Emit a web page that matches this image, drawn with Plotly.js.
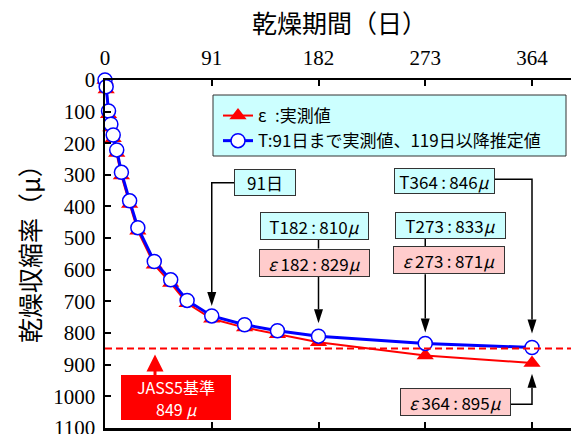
<!DOCTYPE html>
<html><head><meta charset="utf-8">
<script src="https://cdn.plot.ly/plotly-3.0.1.min.js"></script>
<style>html,body{margin:0;padding:0;background:#fff;}#chart{width:571px;height:434px;}</style>
</head><body><div id="chart"></div>
<script>
// ---- data ----
const days = [0, 1, 3, 5, 7, 10, 14, 21, 28, 42, 56, 70, 91, 119, 147, 182, 273, 364];
const tValues = [0, 21, 98, 140, 174, 221, 292, 382, 467, 574, 632, 697, 746, 774, 793, 810, 833, 846];
const epsValues = [0, 30, 108, 150, 184, 231, 302, 392, 477, 584, 642, 706, 755, 783, 804, 829, 871, 895];
const xTickVals = [0, 91, 182, 273, 364];
const yTickVals = [0, 100, 200, 300, 400, 500, 600, 700, 800, 900, 1000, 1100];
const jassLimit = 849;
const legendNames = ['ε\u2002:実測値', 'T:91日まで実測値、119日以降推定値'];
const xTitle = '乾燥期間（日）';
const yTitle = '乾燥収縮率（μ）';

// ---- layout constants ----
const W = 571, H = 434, L = 105, R = 0, TOP = 80, B = 6;
const PX = 427 / 364;            // px per day
const XMAX = (W - L - R) / PX;
const YMAX = 1100;
const PY = (H - TOP - B) / YMAX; // px per unit
const JP = 'Noto Sans CJK JP, Noto Sans, sans-serif';
const SERIF = 'Liberation Serif, DejaVu Serif, serif';
const CYAN = '#ccffff', PINK = '#ffcccc';
const SP = '\u2009';

const X = px => (px - L) / PX;
const Y = py => (py - TOP) / PY;
const sx = d => L + d * PX;
const sy = v => TOP + v * PY;
const i = d => days.indexOf(d);
const T = d => tValues[i(d)];
const E = d => epsValues[i(d)];
const pX = px => (px - L) / (W - L - R);
const pY = py => (H - B - py) / (H - TOP - B);

const traces = [
  {x: days, y: epsValues, name: legendNames[0], type: 'scatter', mode: 'lines+markers',
   legendgroup: 'e', cliponaxis: false,
   line: {color: '#ff0000', width: 2},
   marker: {symbol: 'triangle-up', size: 15, color: '#ff0000'}},
  {x: days, y: tValues, name: legendNames[1], type: 'scatter', mode: 'lines+markers',
   legendgroup: 't', cliponaxis: false,
   line: {color: '#0000ff', width: 3},
   marker: {symbol: 'circle', size: 14, color: '#ffffff', line: {color: '#0000ff', width: 1.5}}}
];

// text boxes
const colon = SP + ':' + SP;
const boxes = [
  {text: `${days[i(91)]}日`, cx: 265, cy: 182.7, w: 62, h: 27, bg: CYAN},
  {text: `T182${colon}${T(182)}<i>μ</i>`, cx: 314.5, cy: 226.3, w: 109, h: 28, bg: CYAN},
  {text: `<i>ε</i> 182${colon}${E(182)}<i>μ</i>`, cx: 314.7, cy: 262.7, w: 111, h: 28, bg: PINK},
  {text: `T273${colon}${T(273)}<i>μ</i>`, cx: 450.3, cy: 225.3, w: 111, h: 27, bg: CYAN},
  {text: `<i>ε</i> 273${colon}${E(273)}<i>μ</i>`, cx: 449.2, cy: 260.5, w: 112, h: 28, bg: PINK},
  {text: `T364${colon}${T(364)}<i>μ</i>`, cx: 444.5, cy: 181.3, w: 101, h: 26, bg: CYAN},
  {text: `<i>ε</i> 364${colon}${E(364)}<i>μ</i>`, cx: 455.3, cy: 402.5, w: 111, h: 28, bg: PINK}
];
const annotations = boxes.map(b => ({
  xref: 'x', yref: 'y', x: X(b.cx), y: Y(b.cy), xanchor: 'center', yanchor: 'middle',
  text: b.text, showarrow: false, bgcolor: b.bg, bordercolor: '#333333', borderwidth: 1,
  borderpad: 0, width: b.w - 2, height: b.h - 2,
  font: {family: JP, size: 17, color: '#000'}
}));
annotations.push({
  xref: 'x', yref: 'y', x: X(176), y: Y(387), xanchor: 'center', yanchor: 'middle',
  text: 'JASS5基準', showarrow: false, font: {family: JP, size: 16, color: '#ffffff'}
});
annotations.push({
  xref: 'x', yref: 'y', x: X(176), y: Y(409), xanchor: 'center', yanchor: 'middle',
  text: `${jassLimit} <i>μ</i>`, showarrow: false, font: {family: JP, size: 16, color: '#ffffff'}
});
annotations.push({
  xref: 'paper', yref: 'paper', x: pX(339), y: pY(22), xanchor: 'center', yanchor: 'middle',
  text: xTitle, showarrow: false, font: {family: JP, size: 25, color: '#000'}
});
annotations.push({
  xref: 'paper', yref: 'paper', x: pX(29), y: pY(248), xanchor: 'center', yanchor: 'middle',
  text: yTitle, textangle: -90, showarrow: false, font: {family: JP, size: 25, color: '#000'}
});

const HL = 14, HW = 4.5;
const callouts = [
  {day: 91, val: T(91), stand: 10, dir: 'down', pts: [[234.3, 182.7], [sx(91), 182.7]]},
  {day: 182, val: T(182), stand: 13, dir: 'down', pts: [[sx(182), 240], [sx(182), 248.7]], gap: [[sx(182), 276.7]]},
  {day: 273, val: T(273), stand: 11, dir: 'down', pts: [[sx(273), 238.3], [sx(273), 246.7]], gap: [[sx(273), 274.3]]},
  {day: 364, val: T(364), stand: 14, dir: 'down', pts: [[495, 179.3], [sx(364), 179.3]]},
  {day: 364, val: E(364), stand: 10.8, dir: 'up', pts: [[510.7, 404.3], [sx(364), 404.3]]}
];
const shapes = [];
shapes.push({type: 'rect', xref: 'paper', yref: 'paper', x0: pX(121), x1: pX(231), y0: pY(420), y1: pY(375),
  fillcolor: '#ff0000', line: {width: 0}, layer: 'above'});
shapes.push({type: 'line', xref: 'paper', x0: 0, x1: 1, yref: 'y', y0: jassLimit, y1: jassLimit,
  line: {color: '#ff0000', width: 2, dash: '7px,4px'}, layer: 'above'});
shapes.push({type: 'rect', xref: 'paper', yref: 'paper', x0: pX(213), x1: pX(566), y0: pY(156), y1: pY(95),
  fillcolor: CYAN, line: {color: '#333333', width: 1}, layer: 'above'});
callouts.forEach(c => {
  const yc = sy(c.val);
  const base = c.dir === 'down' ? yc - c.stand - HL : yc + c.stand + HL;
  let segs = [];
  if (c.gap) {
    segs.push(c.pts);
    segs.push([c.gap[0], [sx(c.day), base]]);
  } else {
    segs.push(c.pts.concat([[sx(c.day), base]]));
  }
  segs.forEach(s => {
    const path = s.map((p, k) => (k ? 'L' : 'M') + X(p[0]) + ',' + Y(p[1])).join(' ');
    shapes.push({type: 'path', xref: 'x', yref: 'y', path: path, line: {color: '#000', width: 1.5}, layer: 'above'});
  });
  const s = c.dir === 'down' ? 1 : -1;
  shapes.push({type: 'path', xref: 'x', yref: 'y', xsizemode: 'pixel', ysizemode: 'pixel',
    xanchor: c.day, yanchor: c.val,
    path: `M${-HW},${s * (c.stand + HL)} L${HW},${s * (c.stand + HL)} L0,${s * c.stand} Z`,
    fillcolor: '#000', line: {width: 0}, layer: 'above'});
});
shapes.push({type: 'path', xref: 'x', yref: 'y', xsizemode: 'pixel', ysizemode: 'pixel',
  xanchor: X(155), yanchor: jassLimit, path: 'M0,-22 L0,-27', line: {color: '#ff0000', width: 3}, layer: 'above'});
shapes.push({type: 'path', xref: 'x', yref: 'y', xsizemode: 'pixel', ysizemode: 'pixel',
  xanchor: X(155), yanchor: jassLimit, path: 'M-8.5,-23 L8.5,-23 L0,-6 Z',
  fillcolor: '#ff0000', line: {width: 0}, layer: 'above'});

const layout = {
  width: W, height: H, margin: {l: L, r: R, t: TOP, b: B},
  font: {family: SERIF, color: '#000'},
  paper_bgcolor: '#fff', plot_bgcolor: '#fff', showlegend: true,
  xaxis: {side: 'top', range: [0, XMAX], tickmode: 'array', tickvals: xTickVals, ticktext: xTickVals.map(String),
    ticks: 'inside', ticklen: 6, tickwidth: 2, tickcolor: '#000',
    showline: true, linecolor: '#000', linewidth: 2.5, mirror: 'ticks',
    showgrid: false, zeroline: false, ticklabelstandoff: 4, ticklabeloverflow: 'allow',
    tickfont: {family: SERIF, size: 21, color: '#000'}},
  yaxis: {range: [YMAX + 0.5, 0], tickmode: 'array', tickvals: yTickVals, ticktext: yTickVals.map(String),
    ticks: 'inside', ticklen: 6, tickwidth: 2, tickcolor: '#000',
    showline: true, linecolor: '#000', linewidth: 2.5, mirror: false,
    showgrid: false, zeroline: false, ticklabelstandoff: 3, ticklabeloverflow: 'allow',
    tickfont: {family: SERIF, size: 21, color: '#000'}},
  legend: {x: pX(218), y: pY(98), xanchor: 'left', yanchor: 'top',
    bgcolor: 'rgba(0,0,0,0)', borderwidth: 0, tracegroupgap: 0,
    font: {family: JP, size: 17, color: '#000'}},
  annotations: annotations, shapes: shapes
};
Plotly.newPlot('chart', traces, layout, {displayModeBar: false, staticPlot: true});
</script></body></html>
